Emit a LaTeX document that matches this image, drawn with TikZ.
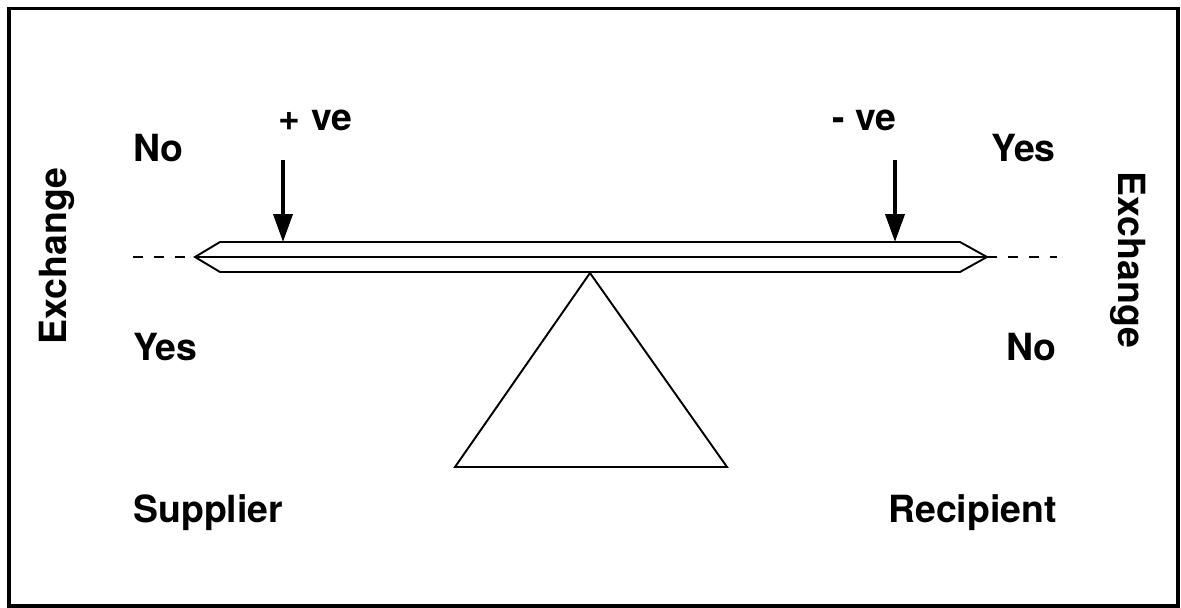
\documentclass[tikz,border=0pt]{standalone}
\usepackage{fontspec}
\setmainfont{TeX Gyre Heros}
\usetikzlibrary{arrows.meta}

\begin{document}
\begin{tikzpicture}[x=0.02cm,y=-0.02cm,
   every node/.style={font=\fontsize{21.3}{24}\selectfont\bfseries,inner sep=0pt},
   beam/.style={line width=1.1pt,line join=miter},
   force/.style={line width=2.2pt,-{Triangle[length=0.56cm,width=0.38cm]}},
   level/.style={line width=1pt,dash pattern=on 0.2cm off 0.22cm}]
  \useasboundingbox (0,0) rectangle (1181,608);
  \draw[line width=1.8pt] (9,8.5) rectangle (1178,606);
  % see-saw
  \coordinate (tipL) at (195,257);
  \coordinate (tipR) at (987,257);
  \draw[beam] (tipL) -- (220,242) -- (960,242) -- (tipR) -- (960,272) -- (220,272) -- cycle;
  \draw[beam] (tipL) -- (tipR);
  \coordinate (apex) at (590,273);
  \draw[line width=1.1pt] (apex) -- (727,467) -- (455,467) -- cycle;
  \coordinate (dashL) at (133,257);
  \coordinate (dashR) at (1057,257);
  \draw[level] (dashL) -- (tipL);
  \draw[level] (tipR) -- (dashR);
  % forces
  \coordinate (pushL) at (283,160);
  \coordinate (hitL) at (283,242);
  \coordinate (pushR) at (895,160);
  \coordinate (hitR) at (895,242);
  \draw[force] (pushL) -- (hitL);
  \draw[force] (pushR) -- (hitR);
  \node[anchor=base] (pos) at (315.5,131) {+ ve};
  \node[anchor=base east] (neg) at (897,131) {- ve};
  % labels
  \node[anchor=base west] (noL) at (133,162) {No};
  \node[anchor=base east] (yesR) at (1056,162) {Yes};
  \node[anchor=base west] (yesL) at (133,360) {Yes};
  \node[anchor=base east] (noR) at (1057,360) {No};
  \node[anchor=base west] (supp) at (133,522) {Supplier};
  \node[anchor=base east] (recip) at (1057,522) {Recipient};
  \node[anchor=base,rotate=90] (exL) at (67,256) {Exchange};
  \node[anchor=base,rotate=-90] (exR) at (1118,260) {Exchange};
\end{tikzpicture}
\end{document}
